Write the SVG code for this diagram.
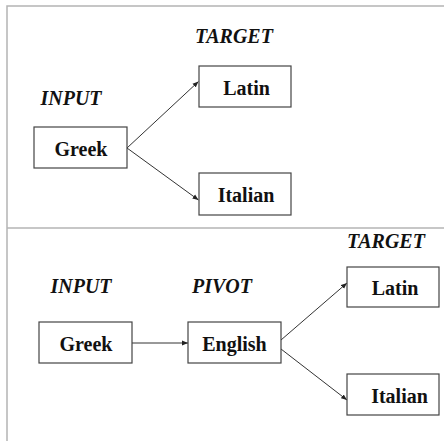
<svg xmlns="http://www.w3.org/2000/svg" width="444" height="441" viewBox="0 0 444 441">
<style>
.frame{stroke:#b4b4b4;stroke-width:1.5;fill:none}
.box{fill:#fff;stroke:#444;stroke-width:1.2}
.t{font-family:"Liberation Serif","Times New Roman",serif;font-weight:bold;font-size:20px;fill:#111}
.h{font-family:"Liberation Serif","Times New Roman",serif;font-weight:bold;font-style:italic;font-size:20px;fill:#111}
.c{stroke:#333;stroke-width:1;fill:none;marker-end:url(#ah)}
</style>
<defs>
<marker id="ah" viewBox="0 0 10 10" refX="10" refY="5" markerWidth="6" markerHeight="6" markerUnits="userSpaceOnUse" orient="auto">
<path d="M0,1 L10,5 L0,9 z" fill="#222"/>
</marker>
</defs>
<rect width="444" height="441" fill="#fff"/>
<g id="frame">
<path class="frame" d="M7,441 V6 H444"/>
<path class="frame" d="M7,228 H444"/>
</g>
<g id="labels">
<text class="h" x="234" y="43" text-anchor="middle">TARGET</text>
<text class="h" x="71" y="105" text-anchor="middle">INPUT</text>
<text class="h" x="386" y="248" text-anchor="middle">TARGET</text>
<text class="h" x="81" y="293" text-anchor="middle">INPUT</text>
<text class="h" x="222" y="293" text-anchor="middle">PIVOT</text>
</g>
<g id="connectors">
<path class="c" d="M127,148 L198.5,81.5"/>
<path class="c" d="M127,148 L198.5,200"/>
<path class="c" d="M132,343 L188,343"/>
<path class="c" d="M281,340 L347,283"/>
<path class="c" d="M281,349 L347,400"/>
</g>
<g id="n-greek1"><rect class="box" x="34" y="127" width="93" height="41"/><text class="t" x="81" y="156" text-anchor="middle">Greek</text></g>
<g id="n-latin1"><rect class="box" x="199" y="66" width="92" height="41"/><text class="t" x="246.5" y="95" text-anchor="middle">Latin</text></g>
<g id="n-italian1"><rect class="box" x="199" y="173" width="92" height="42"/><text class="t" x="246" y="202" text-anchor="middle">Italian</text></g>
<g id="n-greek2"><rect class="box" x="39" y="322" width="93" height="41"/><text class="t" x="86" y="351" text-anchor="middle">Greek</text></g>
<g id="n-english"><rect class="box" x="188" y="322" width="93" height="41"/><text class="t" x="234.5" y="351" text-anchor="middle">English</text></g>
<g id="n-latin2"><rect class="box" x="347" y="267" width="92" height="40"/><text class="t" x="395" y="295" text-anchor="middle">Latin</text></g>
<g id="n-italian2"><rect class="box" x="347" y="374" width="92" height="41"/><text class="t" x="399.5" y="403" text-anchor="middle">Italian</text></g>
</svg>
